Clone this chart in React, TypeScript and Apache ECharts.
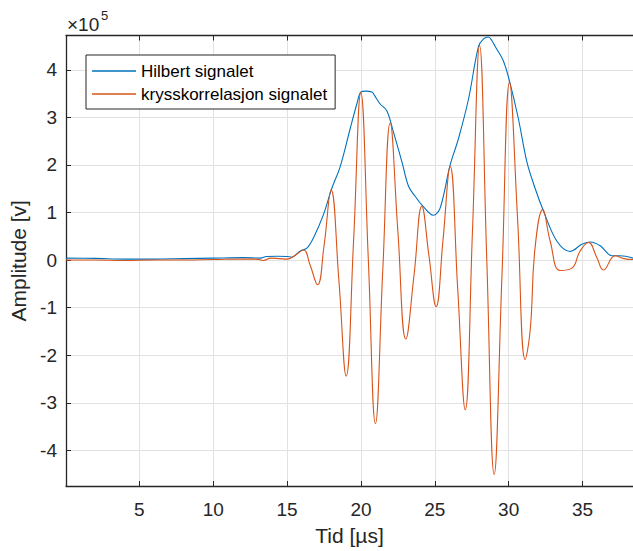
import React, { useEffect, useRef } from "react";
import * as echarts from "echarts";

const hilbertT = [0.03, 2, 4, 6, 8, 10, 12, 13.2, 13.6, 14.3, 15.0, 15.3, 15.9, 16.34, 16.79, 17.46, 18.03, 18.59, 19.27, 19.72, 19.99, 20.3, 20.74, 21.0, 21.3, 21.75, 22.2, 22.77, 23.22, 23.67, 24.12, 24.91, 25.36, 26.04, 26.6, 27.28, 27.96, 28.3, 28.63, 28.85, 29.09, 29.65, 30.06, 30.66, 31.23, 31.79, 32.36, 33.26, 34.16, 34.96, 35.52, 36.2, 36.99, 37.55, 38.42];
const hilbertV = [0.04, 0.035, 0.02, 0.02, 0.03, 0.04, 0.05, 0.04, 0.075, 0.08, 0.075, 0.06, 0.19, 0.25, 0.47, 0.955, 1.51, 1.96, 2.76, 3.28, 3.53, 3.55, 3.53, 3.42, 3.28, 3.14, 2.69, 2.07, 1.55, 1.34, 1.16, 0.94, 1.09, 2.0, 2.55, 3.38, 4.49, 4.65, 4.69, 4.62, 4.49, 4.18, 3.76, 2.97, 2.07, 1.51, 1.03, 0.4, 0.18, 0.33, 0.38, 0.3, 0.09, 0.09, 0.04];

const krysT = [0.03, 2, 4, 6, 8, 10, 12, 12.9, 13.4, 13.9, 14.5, 15.0, 15.5, 16.11, 16.55, 17.06, 17.5, 17.98, 18.5, 19.0, 19.5, 19.99, 20.5, 20.98, 21.48, 21.98, 22.5, 23.04, 23.6, 24.12, 24.6, 25.09, 25.55, 26.04, 26.55, 27.06, 27.55, 28.03, 28.52, 29.02, 29.54, 30.06, 30.6, 31.12, 31.46, 31.79, 32.31, 32.81, 33.49, 34.28, 34.84, 35.4, 35.97, 36.42, 37.21, 37.8, 38.42];
const krysV = [0.0, 0.0, -0.01, 0.0, 0.0, 0.01, 0.02, 0.02, -0.01, 0.04, 0.03, 0.02, 0.09, 0.21, -0.1, -0.52, 0.3, 1.475, -0.4, -2.44, 0.4, 3.52, 0.0, -3.44, -0.2, 2.88, 0.6, -1.66, -0.3, 1.13, 0.1, -0.98, 0.4, 1.97, -0.6, -3.15, 0.6, 4.51, 0.0, -4.505, -0.4, 3.73, 0.9, -2.09, -1.47, 0.26, 1.06, 0.4, -0.22, -0.17, 0.19, 0.37, 0.055, -0.21, 0.09, 0.03, 0.01];

const seriesNames = ["Hilbert signalet", "krysskorrelasjon signalet"];
const xName = "Tid [µs]";
const yName = "Amplitude [v]";

const FONT = "'Liberation Sans', Arial, Helvetica, sans-serif";
const TEXT = "#262626";
const GRID = "#e2e2e2";

export default function App() {
  const ref = useRef<HTMLDivElement>(null);
  useEffect(() => {
    if (!ref.current) return;
    const chart = echarts.init(ref.current, null, { renderer: "svg" });
    const xMin = 0.03;
    const xMax = 38.42;
    const yMin = -4.75;
    const yMax = 4.72;
    const hilbert = hilbertT.map((t, i) => [t, hilbertV[i]]);
    const krys = krysT.map((t, i) => [t, krysV[i]]);
    chart.setOption({
      animation: false,
      backgroundColor: "#ffffff",
      textStyle: { fontFamily: FONT },
      grid: { left: 66, right: 0, top: 35.5, bottom: 60, containLabel: false },
      legend: {
        orient: "vertical",
        left: 86,
        top: 55,
        width: 252,
        padding: [6, 6, 5, 6],
        itemGap: 3,
        itemWidth: 44,
        itemHeight: 1.3,
        icon: "rect",
        borderColor: TEXT,
        borderWidth: 1,
        backgroundColor: "#ffffff",
        borderRadius: 0,
        textStyle: { fontFamily: FONT, fontSize: 17, color: "#000000", lineHeight: 20, padding: [0, 2, 0, 0] },
        data: seriesNames,
      },
      xAxis: [
        {
          type: "value",
          min: xMin,
          max: xMax,
          minInterval: 5,
          maxInterval: 5,
          name: xName,
          nameLocation: "middle",
          nameGap: 39,
          nameTextStyle: { fontFamily: FONT, fontSize: 21, color: TEXT },
          axisLine: { show: true, onZero: false, lineStyle: { color: TEXT, width: 1.3 } },
          axisTick: { show: true, inside: true, length: 5, lineStyle: { color: TEXT, width: 1 } },
          axisLabel: { show: true, showMinLabel: false, showMaxLabel: false, margin: 14, fontFamily: FONT, fontSize: 19, color: TEXT },
          splitLine: { show: true, lineStyle: { color: GRID, width: 1 } },
        },
        {
          type: "value",
          position: "top",
          min: xMin,
          max: xMax,
          minInterval: 5,
          maxInterval: 5,
          axisLine: { show: true, onZero: false, lineStyle: { color: TEXT, width: 1.3 } },
          axisTick: { show: true, inside: true, length: 5, lineStyle: { color: TEXT, width: 1 } },
          axisLabel: { show: false },
          splitLine: { show: false },
        },
      ],
      yAxis: {
        type: "value",
        min: yMin,
        max: yMax,
        minInterval: 1,
        maxInterval: 1,
        name: yName,
        nameLocation: "middle",
        nameGap: 24,
        nameTextStyle: { fontFamily: FONT, fontSize: 21, color: TEXT },
        axisLine: { show: true, onZero: false, lineStyle: { color: TEXT, width: 1.3 } },
        axisTick: { show: true, inside: true, length: 5, lineStyle: { color: TEXT, width: 1 } },
        axisLabel: { show: true, showMinLabel: false, showMaxLabel: false, margin: 9, fontFamily: FONT, fontSize: 19, color: TEXT },
        splitLine: { show: true, lineStyle: { color: GRID, width: 1 } },
      },
      graphic: [
        {
          type: "text",
          left: 67,
          top: 15,
          style: { text: "×10", font: `19px ${FONT}`, fill: TEXT },
        },
        {
          type: "text",
          left: 101,
          top: 9,
          style: { text: "5", font: `13px ${FONT}`, fill: TEXT },
        },
      ],
      series: [
        {
          name: seriesNames[0],
          type: "line",
          data: hilbert,
          xAxisIndex: 0,
          smooth: 0.35,
          symbol: "none",
          lineStyle: { color: "#0072BD", width: 1.1 },
          itemStyle: { color: "#0072BD" },
        },
        {
          name: seriesNames[1],
          type: "line",
          data: krys,
          xAxisIndex: 0,
          smooth: 0.45,
          symbol: "none",
          lineStyle: { color: "#D95319", width: 1.1 },
          itemStyle: { color: "#D95319" },
        },
      ],
    });
    return () => chart.dispose();
  }, []);
  return <div ref={ref} style={{ position: "absolute", left: 0, top: 0, width: 633, height: 551 }} />;
}
